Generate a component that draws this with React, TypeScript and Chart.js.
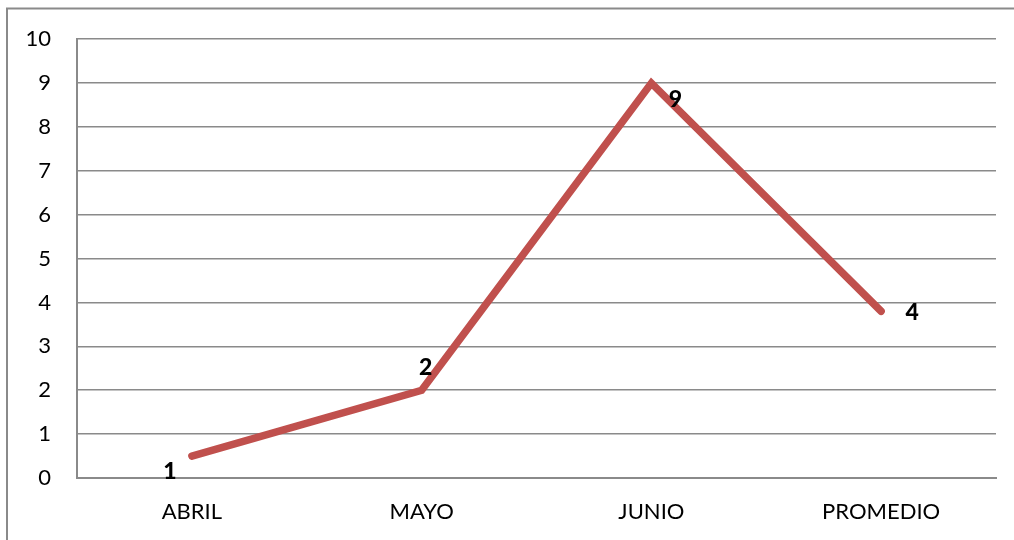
import React, { useEffect, useRef } from "react";
import { Chart, registerables } from "chart.js";

Chart.register(...registerables);

const categories = ["ABRIL", "MAYO", "JUNIO", "PROMEDIO"];
const values = [0.5, 2, 9, 3.8];
const valueLabels = ["1", "2", "9", "4"];
const yTicks = [0, 1, 2, 3, 4, 5, 6, 7, 8, 9, 10];

// label offsets relative to each point (px)
const labelOffsets: [number, number][] = [
  [-22, 16],
  [4, -23],
  [24, 16],
  [31, 1],
];

const FONT = "Lato, 'Liberation Sans', sans-serif";

export default function App() {
  const ref = useRef<HTMLCanvasElement | null>(null);

  useEffect(() => {
    if (!ref.current) return;
    const borderPlugin = {
      id: "outerBorder",
      beforeDraw(chart: any) {
        const ctx = chart.ctx;
        ctx.save();
        ctx.fillStyle = "#ffffff";
        ctx.fillRect(0, 0, chart.width, chart.height);
        ctx.strokeStyle = "#8a8a8a";
        ctx.lineWidth = 2;
        ctx.strokeRect(7, 8.5, chart.width + 50, chart.height + 50);
        ctx.restore();
      },
    };
    const labelPlugin = {
      id: "valueLabels",
      afterDatasetsDraw(chart: any) {
        const ctx = chart.ctx;
        const meta = chart.getDatasetMeta(0);
        ctx.save();
        ctx.fillStyle = "#000000";
        ctx.font = `900 23px ${FONT}`;
        ctx.textAlign = "center";
        ctx.textBaseline = "middle";
        meta.data.forEach((pt: any, i: number) => {
          const [dx, dy] = labelOffsets[i];
          ctx.fillText(valueLabels[i], pt.x + dx, pt.y + dy);
        });
        ctx.restore();
      },
    };
    const chart = new Chart(ref.current, {
      type: "line",
      data: {
        labels: categories,
        datasets: [
          {
            data: values,
            borderColor: "#C0504D",
            borderWidth: 7.5,
            borderCapStyle: "round",
            borderJoinStyle: "miter",
            pointRadius: 0,
            pointHoverRadius: 0,
            tension: 0,
            fill: false,
          },
        ],
      },
      options: {
        animation: false,
        responsive: false,
        maintainAspectRatio: false,
        layout: { padding: { left: 0, top: 38, right: 18, bottom: 0 } },
        plugins: {
          legend: { display: false },
          tooltip: { enabled: false },
        },
        scales: {
          x: {
            offset: true,
            grid: { display: false, drawTicks: false },
            border: { display: true, color: "#8a8a8a", width: 2 },
            ticks: {
              color: "#000000",
              font: { family: FONT, size: 22 },
              padding: 21,
              maxRotation: 0,
            },
            afterFit(scale: any) {
              scale.height = 62;
            },
          },
          y: {
            min: 0,
            max: 10,
            afterBuildTicks(scale: any) {
              scale.ticks = yTicks.map((v) => ({ value: v }));
            },
            grid: { color: "#8a8a8a", lineWidth: 1.5, drawTicks: false },
            border: { display: true, color: "#8a8a8a", width: 2 },
            ticks: {
              color: "#000000",
              font: { family: FONT, size: 22 },
              padding: 26,
            },
            afterFit(scale: any) {
              scale.width = 77;
            },
          },
        },
      },
      plugins: [borderPlugin, labelPlugin],
    });
    return () => chart.destroy();
  }, []);

  return (
    <div style={{ position: "absolute", left: 0, top: 0, width: 1014, height: 540 }}>
      <canvas ref={ref} width={1014} height={540} style={{ display: "block" }} />
    </div>
  );
}
